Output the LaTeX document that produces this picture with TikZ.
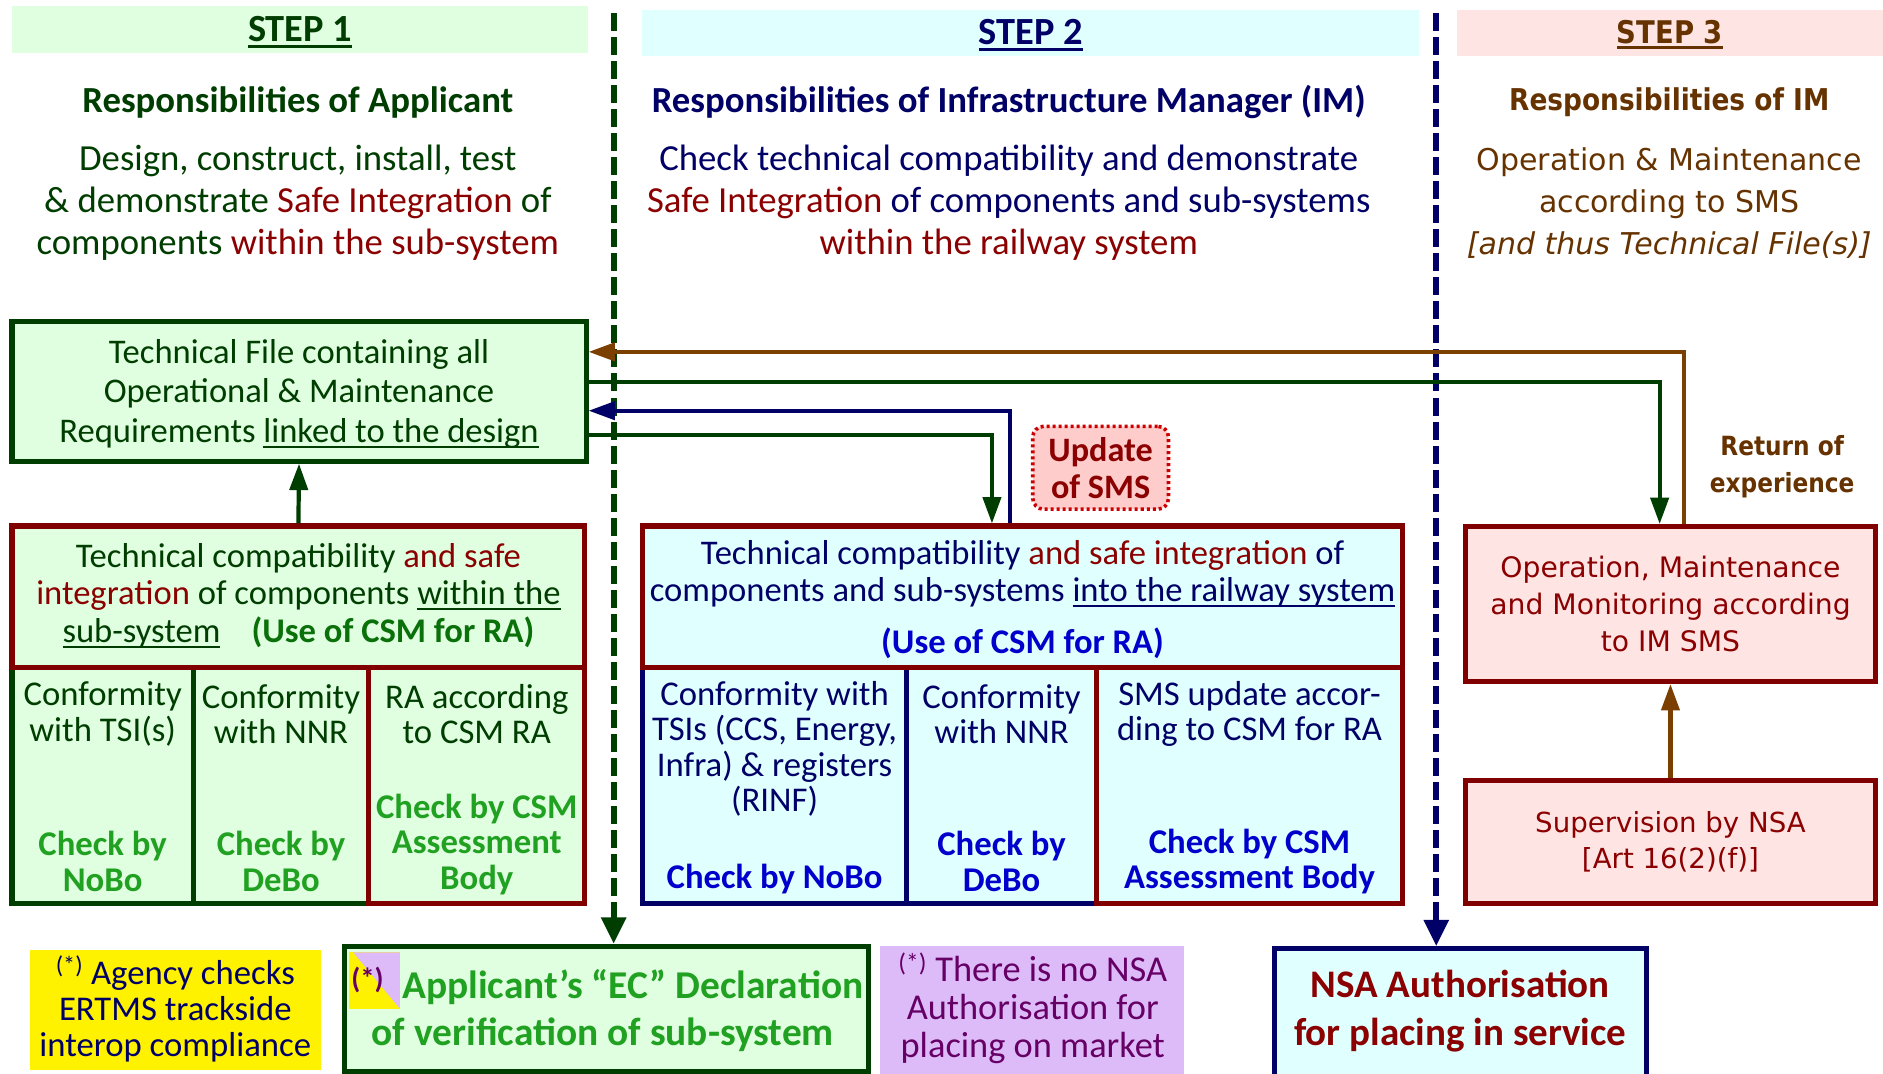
\documentclass[tikz,border=0pt]{standalone}
\usepackage{fontspec}
\setmainfont{Carlito}
\newfontfamily\tah{DejaVu Sans}
\newfontfamily\tahn[FakeStretch=0.88]{DejaVu Sans}
\usetikzlibrary{arrows.meta}

\definecolor{dkgreen}{HTML}{003D00}
\definecolor{dkred}{HTML}{8B0000}
\definecolor{frred}{HTML}{800000}
\definecolor{navy}{HTML}{000066}
\definecolor{brown}{HTML}{663300}
\definecolor{brline}{HTML}{7B3F00}
\definecolor{chkgreen}{HTML}{21A121}
\definecolor{usegreen}{HTML}{0A700A}
\definecolor{chkblue}{HTML}{0000CC}
\definecolor{lgreen}{HTML}{E0FFE0}
\definecolor{lcyan}{HTML}{E0FFFF}
\definecolor{lpink}{HTML}{FFE4E4}
\definecolor{smspink}{HTML}{FFCCCC}
\definecolor{smsred}{HTML}{CC0000}
\definecolor{lav}{HTML}{DDBBF8}
\definecolor{purp}{HTML}{660066}

% underline with a rule that scales with the font
\newcommand\myul[2][0.06em]{\leavevmode\setbox0\hbox{#2}\rlap{\rule[-0.16em]{\wd0}{#1}}\box0}

\tikzset{
  frame/.style={rectangle, line width=4.2pt, inner sep=0pt},
  band/.style={rectangle, inner sep=0pt, minimum height=39pt},
  txt/.style={align=center, inner sep=0pt, font=\fontsize{28.8}{33}\selectfont},
  celltxt/.style={align=center, inner sep=0pt, font=\fontsize{28.9}{29.5}\selectfont},
  celltxtb/.style={celltxt, font=\fontsize{28.9}{29.5}\selectfont\bfseries},
  headtxt/.style={align=center, inner sep=0pt, font=\fontsize{30.6}{35}\selectfont},
  link/.style={line width=3.5pt, -{Triangle[length=22pt,width=15pt]}},
  divider/.style={line width=5pt, dash pattern=on 15pt off 5pt, -{Triangle[length=22pt,width=20pt]}},
}

\begin{document}
\begin{tikzpicture}[x=1pt,y=-1pt]
\useasboundingbox (0,0) rectangle (1568,894);
\fill[white] (0,0) rectangle (1568,894);

% ---- column headers
\node[band, fill=lgreen, minimum width=480pt] (b1) at (250,24.5) {};
\node[band, fill=lcyan, minimum width=647pt] (b2) at (858.5,27.5) {};
\node[band, fill=lpink, minimum width=355pt] (b3) at (1390.5,27.5) {};
\node[inner sep=0pt, font=\fontsize{32}{36}\selectfont\bfseries, text=dkgreen] (b1t) at (250,27) {\myul[0.09em]{STEP 1}};
\node[inner sep=0pt, font=\fontsize{32}{36}\selectfont\bfseries, text=navy] (b2t) at (858.5,29.5) {\myul[0.09em]{STEP 2}};
\node[inner sep=0pt, font=\tahn\fontsize{26}{30}\selectfont\bfseries, text=brown] (b3t) at (1390.5,29) {\myul[0.09em]{STEP 3}};

\node[headtxt, font=\fontsize{30.6}{35}\selectfont\bfseries, text=dkgreen] (h1) at (248,85)
  {Responsibilities of Applicant};
\node[headtxt, font=\fontsize{30.6}{35}\selectfont\bfseries, text=navy] (h2) at (840,85)
  {Responsibilities of Infrastructure Manager (IM)};
\node[headtxt, font=\tahn\fontsize{25}{30}\selectfont\bfseries, text=brown] (h3) at (1390,85)
  {Responsibilities of IM};

\node[headtxt, text=dkgreen] (d1) at (248,169)
  {Design, construct, install, test\\
   \& demonstrate {\color{dkred}Safe Integration} of\\
   components {\color{dkred}within the sub-system}};
\node[headtxt, text=navy] (d2) at (840,169)
  {Check technical compatibility and demonstrate\\
   {\color{dkred}Safe Integration} of components and sub-systems\\
   {\color{dkred}within the railway system}};
\node[headtxt, font=\tah\fontsize{25}{35}\selectfont, text=brown] (d3) at (1390,169)
  {Operation \& Maintenance\\ according to SMS\\ \textit{[and thus Technical File(s)]}};

% ---- step separators
\coordinate (g0) at (511,11);
\coordinate (n0) at (1196,11);

% ---- bottom boxes
\node[fill=yellow, minimum width=242pt, minimum height=100pt, inner sep=0pt] (yel) at (146,841) {};
\node[txt, font=\fontsize{28.9}{30}\selectfont, text=navy] (yelt) at (146,840)
  {\textsuperscript{(*)} Agency checks\\ ERTMS trackside\\ interop compliance};

\node[frame, draw=dkgreen, fill=lgreen, minimum width=436pt, minimum height=104pt] (ec) at (505,840) {};
\fill[yellow] (291,793) rectangle (333,840);
\fill[lav] (294,793) -- (333,793) -- (333,840) -- cycle;
\node[txt, font=\fontsize{24}{28}\selectfont\bfseries, text=purp] (ecs) at (306,816) {(*)};
\node[txt, font=\fontsize{32.8}{40}\selectfont\bfseries, text=chkgreen] (ect1) at (527,822)
  {Applicant’s “EC” Declaration};
\node[txt, font=\fontsize{32.8}{40}\selectfont\bfseries, text=chkgreen] (ect2) at (502,862)
  {of verification of sub-system};

\node[fill=lav, minimum width=253pt, minimum height=106pt, inner sep=0pt] (pur) at (859.5,841) {};
\node[txt, font=\fontsize{30.3}{31.5}\selectfont, text=purp] (purt) at (860,839.5)
  {\textsuperscript{(*)} There is no NSA\\ Authorisation for\\ placing on market};

\node[frame, draw=navy, fill=lcyan, minimum width=310pt, minimum height=112pt] (nsa) at (1216,846) {};
\node[txt, font=\fontsize{32.5}{40}\selectfont\bfseries, text=dkred] (nsat) at (1216,842)
  {NSA Authorisation\\ for placing in service};

\draw[divider, draw=dkgreen] (g0) -- (g0 |- ec.north);
\draw[divider, draw=navy] (n0) -- (n0 |- nsa.north);

% ---- step 1 boxes
\node[frame, draw=dkgreen, fill=lgreen, minimum width=478pt, minimum height=116pt] (tf) at (249,326) {};
\node[txt, text=dkgreen] (tft) at (249,328)
  {Technical File containing all\\ Operational \& Maintenance\\ Requirements \myul{linked to the design}};

\node[frame, draw=dkgreen, fill=lgreen, minimum width=151pt, minimum height=196pt] (c11) at (85.5,654) {};
\node[frame, draw=dkgreen, fill=lgreen, minimum width=146pt, minimum height=196pt] (c12) at (234,654) {};
\node[frame, draw=frred, fill=lgreen, minimum width=180pt, minimum height=196pt] (c13) at (397,654) {};
\node[frame, draw=frred, fill=lgreen, minimum width=477pt, minimum height=118pt] (s1) at (248.5,497) {};
\node[txt, font=\fontsize{28.8}{31}\selectfont, text=dkgreen] (s1t) at (248.5,496)
  {Technical compatibility {\color{dkred}and safe}\\
   {\color{dkred}integration} of components \myul{within the}\\
   \myul{sub-system}\hspace{0.9em}{\bfseries\color{usegreen}(Use of CSM for RA)}};

\node[celltxt, text=dkgreen] (c11a) at (85.5,594.5) {Conformity\\ with TSI(s)};
\node[celltxtb, text=chkgreen] (c11b) at (85.5,717.5) {Check by\\ NoBo};
\node[celltxt, text=dkgreen] (c12a) at (234,594.5) {Conformity\\ with NNR};
\node[celltxtb, text=chkgreen] (c12b) at (234,717.5) {Check by\\ DeBo};
\node[celltxt, text=dkgreen] (c13a) at (397,594.5) {RA according\\ to CSM RA};
\node[celltxtb, text=chkgreen] (c13b) at (397,703) {Check by CSM\\ Assessment\\ Body};

% ---- step 2 boxes
\node[frame, draw=navy, fill=lcyan, minimum width=220pt, minimum height=196pt] (c21) at (645,654) {};
\node[frame, draw=navy, fill=lcyan, minimum width=158pt, minimum height=196pt] (c22) at (834,654) {};
\node[frame, draw=frred, fill=lcyan, minimum width=255pt, minimum height=196pt] (c23) at (1040.5,654) {};
\node[frame, draw=frred, fill=lcyan, minimum width=633pt, minimum height=118pt] (s2) at (851.5,497) {};
\node[txt, font=\fontsize{28.8}{31}\selectfont, text=navy] (s2t) at (851.5,477.5)
  {Technical compatibility {\color{dkred}and safe integration} of\\
   components and sub-systems \myul{into the railway system}};
\node[txt, font=\fontsize{28.8}{31}\selectfont\bfseries, text=chkblue] (s2u) at (851.5,536) {(Use of CSM for RA)};

\node[celltxt, text=navy] (c21a) at (645,623.5) {Conformity with\\ TSIs (CCS, Energy,\\ Infra) \& registers\\ (RINF)};
\node[celltxtb, text=chkblue] (c21b) at (645,732) {Check by NoBo};
\node[celltxt, text=navy] (c22a) at (834,594.5) {Conformity\\ with NNR};
\node[celltxtb, text=chkblue] (c22b) at (834,717.5) {Check by\\ DeBo};
\node[celltxt, text=navy] (c23a) at (1040.5,594.5) {SMS update accor-\\ ding to CSM for RA};
\node[celltxtb, text=chkblue] (c23b) at (1040.5,717.5) {Check by CSM\\ Assessment Body};

\node[frame, draw=smsred, line width=3pt, dash pattern=on 2.5pt off 2.5pt, rounded corners=9pt,
      fill=smspink, minimum width=113pt, minimum height=69pt, align=center,
      font=\fontsize{28.5}{31}\selectfont\bfseries, text=dkred] (sms) at (916.5,389.5) {Update\\ of SMS};

% ---- step 3 boxes
\node[frame, draw=frred, fill=lpink, minimum width=342pt, minimum height=129pt, txt,
      font=\tah\fontsize{23.5}{31}\selectfont, text=dkred] (op) at (1391,503)
  {Operation, Maintenance\\ and Monitoring according\\ to IM SMS};
\node[frame, draw=frred, fill=lpink, minimum width=342pt, minimum height=102pt, txt,
      font=\tah\fontsize{23}{30}\selectfont, text=dkred] (sup) at (1391,701)
  {Supervision by NSA\\ {[Art 16(2)(f)]}};
\node[txt, font=\tahn\fontsize{22}{31}\selectfont\bfseries, text=brown] (roe) at (1484,388.5)
  {Return of\\ experience};

% ---- connectors
\draw[link, draw=dkgreen] (s1.north) -- (tf.south);
\draw[link, draw=brline] (sup.north) -- (op.south);
\draw[link, draw=brline] ([xshift=11pt]op.north) |- ([yshift=33pt]tf.east);
\draw[link, draw=dkgreen] ([yshift=8pt]tf.east) -| ([xshift=-9pt]op.north);
\draw[link, draw=navy] ([xshift=-10.5pt]s2.north) |- ([yshift=-16pt]tf.east);
\draw[link, draw=dkgreen] ([yshift=-36pt]tf.east) -| ([xshift=-25.5pt]s2.north);
\end{tikzpicture}
\end{document}
